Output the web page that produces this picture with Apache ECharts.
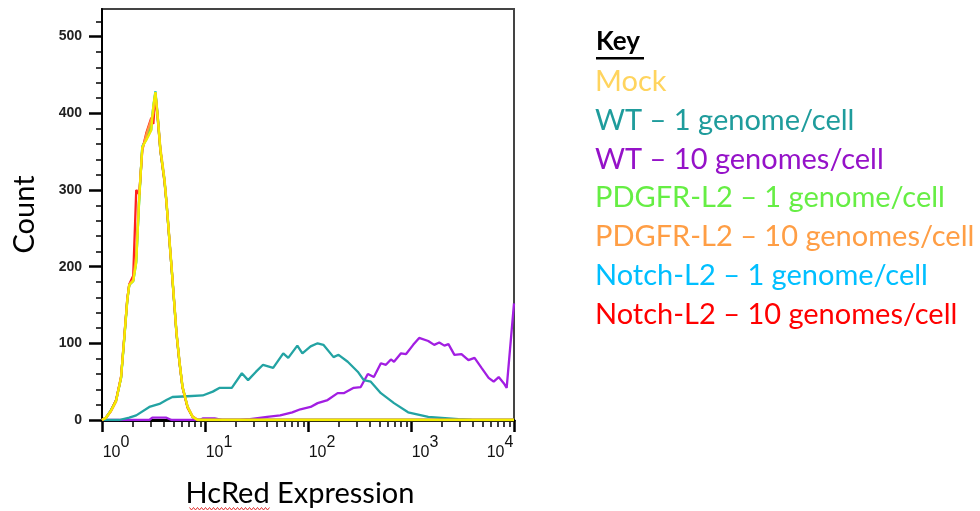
<!DOCTYPE html>
<html lang="en">
<head>
<meta charset="UTF-8">
<title>HcRed Expression</title>
<script src="https://cdn.jsdelivr.net/npm/echarts@6.0.0/dist/echarts.min.js"></script>
<style>
  html, body { margin: 0; padding: 0; background: #fff; }
  #chart { width: 980px; height: 511px; }
</style>
</head>
<body>
<div id="chart"></div>
<script>
// HcRed values shared by the low (mock-like) histograms
const lowBins = [1.0, 1.09, 1.22, 1.37, 1.53, 1.64, 1.76, 1.84, 2.01, 2.15, 2.3, 2.46, 2.69, 3.01, 3.15, 3.3, 3.45, 3.69, 4.04, 4.22, 4.73, 5.29, 5.66, 6.05, 6.77, 7.58, 8.49, 10000];
const mockCounts    = [0, 3, 12, 25, 55, 104, 156, 176, 181, 205, 290, 356, 365, 378, 410, 428, 400, 352, 313, 285, 200, 113, 75, 43, 17, 4, 0, 0];
const pdgfr1Counts  = [0, 2, 12, 26, 54, 103, 155, 177, 182, 208, 288, 355, 368, 385, 408, 427, 399, 351, 312, 284, 199, 112, 74, 43, 17, 4, 0, 0];
const pdgfr10Counts = [0, 3, 11, 24, 56, 106, 158, 177, 183, 215, 295, 352, 372, 392, 400, 426, 402, 355, 315, 287, 202, 115, 76, 44, 18, 5, 0, 0];
const notch1Counts  = [0, 3, 13, 25, 55, 105, 157, 176, 181, 206, 291, 357, 366, 379, 409, 429, 401, 352, 313, 285, 200, 113, 75, 43, 17, 4, 0, 0];
const notch10Counts = [0, 3, 12, 26, 56, 106, 158, 177, 188, 300, 294, 352, 374, 394, 386, 425, 398, 351, 311, 284, 199, 112, 74, 42, 16, 4, 0, 0];

// WT - 1 genome/cell
const wt1X = [1, 1.47, 1.84, 2.15, 2.88, 3.61, 4.22, 4.83, 6.77, 9.5, 11.9, 13.9, 18.2, 22.8, 26.2, 31.3, 36.6, 45.9, 57.5, 64.3, 78.8, 88.2, 106, 124, 141, 177, 198, 243, 304, 348, 407, 510, 684, 937, 1470, 2890, 3870];
const wt1Counts = [0, 0, 3, 6, 17, 21, 26, 30, 31, 32, 37, 42, 42, 61, 52, 63, 72, 68, 87, 81, 97, 87, 96, 100, 98, 82, 85, 76, 63, 52, 50, 35, 22, 10, 4, 1, 0];

// WT - 10 genomes/cell
const wt10X = [1, 2.88, 3.08, 4.22, 4.73, 8.88, 9.5, 12.4, 14.6, 21.8, 27.4, 40.1, 53.7, 70.4, 84.3, 106, 124, 155, 194, 222, 278, 325, 381, 436, 510, 571, 638, 684, 800, 896, 1050, 1200, 1470, 1680, 1880, 2110, 2310, 2640, 3090, 3610, 4140, 4840, 5670, 6350, 7100, 7950, 8490, 10000];
const wt10Counts = [0, 0, 3, 3, 0, 0, 2, 2, 0, 0, 1, 4, 6, 10, 14, 17, 22, 26, 35, 35, 42, 43, 60, 56, 74, 72, 79, 76, 87, 86, 98, 107, 103, 98, 101, 97, 99, 85, 86, 78, 81, 68, 55, 50, 56, 48, 42, 152];

// axis ticks
const yMajorTicks = [0, 100, 200, 300, 400, 500];
const yMinorTicks = [20, 40, 60, 80, 120, 140, 160, 180, 220, 240, 260, 280, 320, 340, 360, 380, 420, 440, 460, 480, 520];
const xMinorTicks = [2, 3, 4, 5, 6, 7, 8, 9, 20, 30, 40, 50, 60, 70, 80, 90, 200, 300, 400, 500, 600, 700, 800, 900, 2000, 3000, 4000, 5000, 6000, 7000, 8000, 9000];

const seriesNames = ['Mock', 'WT – 1 genome/cell', 'WT – 10 genomes/cell', 'PDGFR-L2 – 1 genome/cell', 'PDGFR-L2 – 10 genomes/cell', 'Notch-L2 – 1 genome/cell', 'Notch-L2 – 10 genomes/cell'];
const legendColors = ['#FFD45E', '#1F9C9C', '#9512C8', '#66EE44', '#FF9E45', '#00BFFF', '#FF0000'];
const lineColors   = ['#F4EC00', '#23A3A3', '#A21EE2', '#5EE84A', '#FF9A40', '#00BFFF', '#FF2020'];

const pairs = (xs, ys) => xs.map((x, i) => [x, ys[i]]);

const textFont = 'Lato, "Open Sans", sans-serif';
const tickFont = '"Liberation Sans Narrow", "Liberation Sans", Arial, sans-serif';

function line(idx, data) {
    return {
        name: seriesNames[idx],
        type: 'line',
        xAxisIndex: 0,
        yAxisIndex: 0,
        data: data,
        showSymbol: false,
        smooth: false,
        lineStyle: { color: lineColors[idx], width: 2.3 },
        itemStyle: { color: lineColors[idx] },
        emphasis: { disabled: true }
    };
}

// red spell-check squiggle under "HcRed"
const squiggle = [];
for (let x = 0; x <= 80; x += 2) squiggle.push([x, (x / 2) % 2 === 0 ? 0 : 2.5]);

const chart = echarts.init(document.getElementById('chart'));

chart.setOption({
    animation: false,
    backgroundColor: '#fff',
    title: {
        text: 'Key', left: 591, top: 24,
        textStyle: { fontFamily: textFont, fontWeight: 'bold', fontSize: 26, color: '#000' }
    },
    legend: {
        orient: 'vertical', left: 585, top: 62,
        icon: 'none', itemWidth: 0, itemHeight: 10, itemGap: 8.7,
        selectedMode: false,
        textStyle: { fontFamily: textFont, fontSize: 29, lineHeight: 30 },
        data: seriesNames.map((n, i) => ({ name: n, textStyle: { color: legendColors[i] } }))
    },
    graphic: [
        { type: 'rect', left: 596, top: 57, shape: { width: 48, height: 2.5 }, style: { fill: '#000' } },
        { type: 'polyline', left: 187, top: 505, shape: { points: squiggle }, style: { stroke: '#E03030', lineWidth: 1, fill: null } }
    ],
    grid: {
        left: 102, right: 466, top: 9, bottom: 91,
        outerBoundsMode: 'none',
        show: true, borderColor: '#444', borderWidth: 2, backgroundColor: '#fff'
    },
    xAxis: [
        {
            type: 'log', logBase: 10, min: 1, max: 10000, position: 'bottom',
            name: 'HcRed Expression', nameLocation: 'middle', nameGap: 59,
            nameTextStyle: { fontFamily: textFont, fontSize: 29, color: '#000', padding: [0, 16, 0, 0] },
            axisLine: { lineStyle: { color: '#000', width: 3 } },
            axisTick: { length: 12, lineStyle: { color: '#000', width: 2.5 } },
            splitLine: { show: false },
            axisLabel: {
                margin: 25,
                formatter: function (v) {
                    const e = Math.round(Math.log10(v));
                    return e === 4 ? '{b|10}{e|' + e + '}{s|}' : '{s|}{b|10}{e|' + e + '}';
                },
                rich: {
                    s: { width: 28, height: 16 },
                    b: { fontFamily: tickFont, fontSize: 16, lineHeight: 16, color: '#111' },
                    e: { fontFamily: tickFont, fontSize: 16, lineHeight: 16, color: '#111', padding: [0, 0, 20, 0] }
                }
            }
        },
        {
            type: 'value', min: 0, max: 4, position: 'bottom',
            axisLine: { show: false },
            axisLabel: { show: false },
            splitLine: { show: false },
            axisTick: { length: 7, customValues: xMinorTicks.map(Math.log10), lineStyle: { color: '#000', width: 1.5 } }
        }
    ],
    yAxis: [
        {
            type: 'value', min: 0, max: 536, position: 'left',
            name: 'Count', nameLocation: 'middle', nameGap: 63, nameRotate: 90,
            nameTextStyle: { fontFamily: textFont, fontSize: 29, color: '#000' },
            axisLine: { show: true, lineStyle: { color: '#000', width: 2 } },
            axisTick: { length: 13, customValues: yMajorTicks, lineStyle: { color: '#000', width: 2.5 } },
            splitLine: { show: false },
            axisLabel: { margin: 20, customValues: yMajorTicks, fontFamily: tickFont, fontSize: 14, fontWeight: 'bold', color: '#222' }
        },
        {
            type: 'value', min: 0, max: 536, position: 'left',
            axisLine: { show: false },
            axisLabel: { show: false },
            splitLine: { show: false },
            axisTick: { length: 6, customValues: yMinorTicks, lineStyle: { color: '#000', width: 1.5 } }
        }
    ],
    series: [
        line(2, pairs(wt10X, wt10Counts)),
        line(1, pairs(wt1X, wt1Counts)),
        line(5, pairs(lowBins, notch1Counts)),
        line(3, pairs(lowBins, pdgfr1Counts)),
        line(6, pairs(lowBins, notch10Counts)),
        line(4, pairs(lowBins, pdgfr10Counts)),
        line(0, pairs(lowBins, mockCounts))
    ]
});
</script>
</body>
</html>
